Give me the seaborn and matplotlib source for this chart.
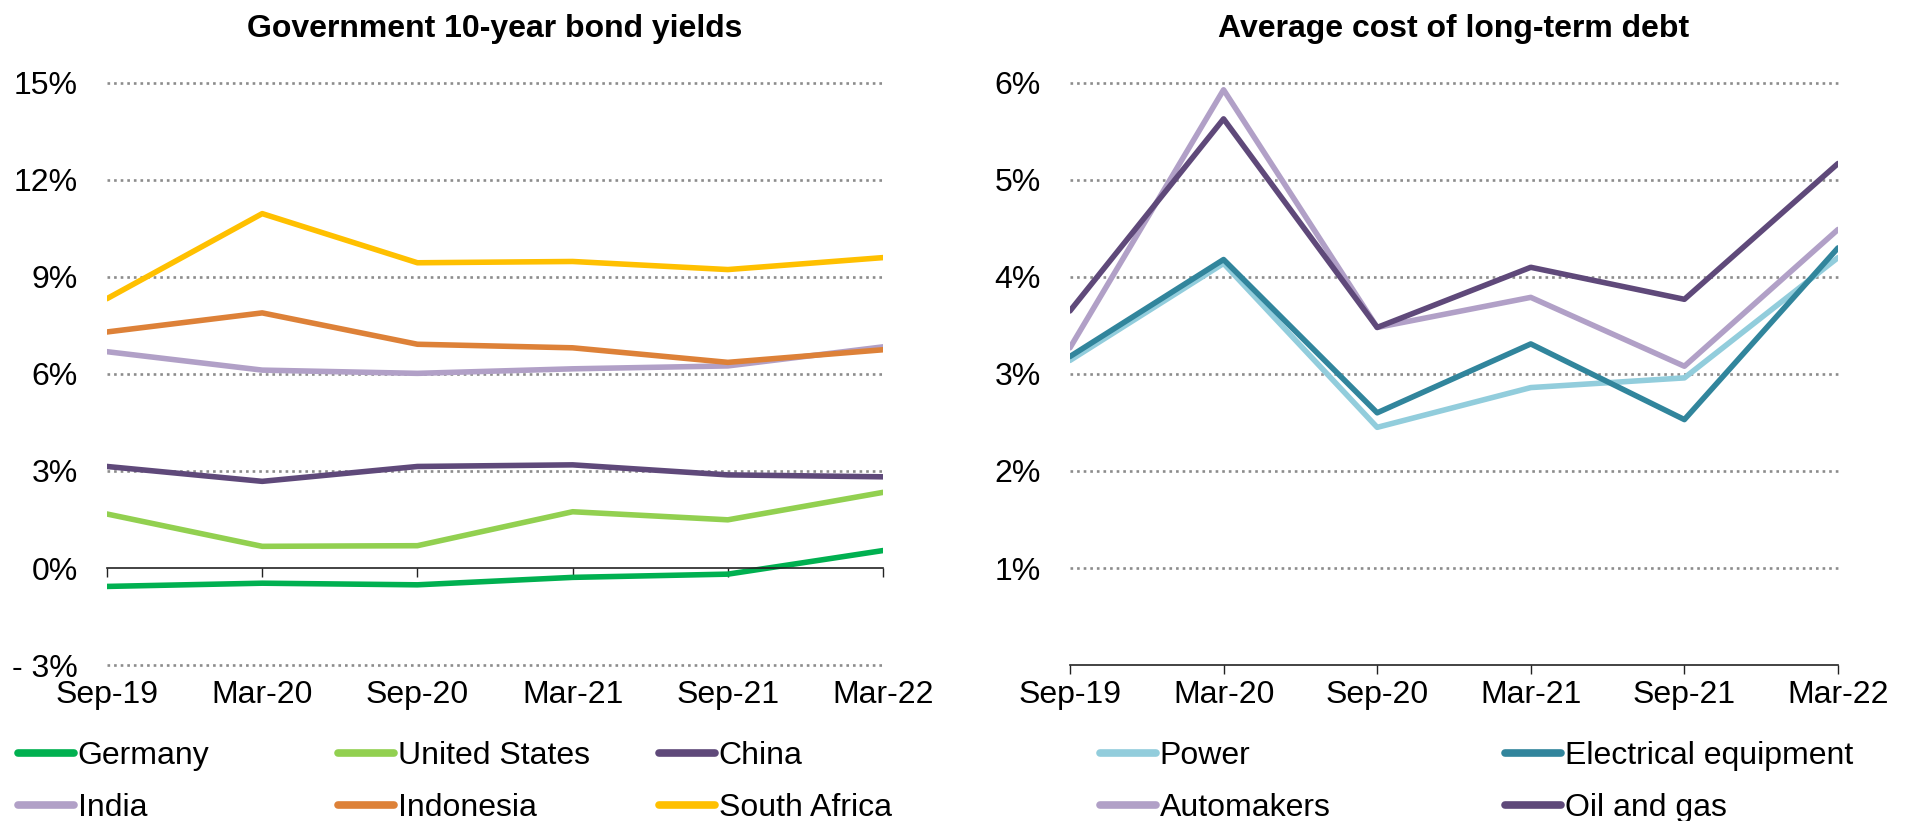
import numpy as np
import pandas as pd
import seaborn as sns
import matplotlib.pyplot as plt

sns.set_style("white")
plt.rcParams['font.family'] = ['Liberation Sans', 'DejaVu Sans']
plt.rcParams['text.color'] = 'black'
plt.rcParams['xtick.color'] = 'black'
plt.rcParams['ytick.color'] = 'black'

periods = ['Sep-19', 'Mar-20', 'Sep-20', 'Mar-21', 'Sep-21', 'Mar-22']

# left panel: government 10-year bond yields (%)
bond_names = ['Germany', 'United States', 'China', 'India', 'Indonesia', 'South Africa']
germany = [-0.57, -0.47, -0.52, -0.29, -0.19, 0.54]
united_states = [1.67, 0.67, 0.69, 1.74, 1.49, 2.34]
china = [3.14, 2.68, 3.14, 3.19, 2.88, 2.82]
india = [6.69, 6.12, 6.02, 6.16, 6.25, 6.84]
indonesia = [7.30, 7.89, 6.92, 6.81, 6.36, 6.75]
south_africa = [8.33, 10.96, 9.44, 9.48, 9.23, 9.60]
bond_colors = ['#00B050', '#92D050', '#5F497A', '#B1A0C7', '#DD8138', '#FFC000']
bond_ticks = [-3, 0, 3, 6, 9, 12, 15]
bond_tick_labels = ['- 3%', '0%', '3%', '6%', '9%', '12%', '15%']

# right panel: average cost of long-term debt (%)
debt_names = ['Power', 'Electrical equipment', 'Automakers', 'Oil and gas']
power = [3.14, 4.14, 2.45, 2.86, 2.96, 4.20]
electrical = [3.18, 4.18, 2.60, 3.31, 2.53, 4.30]
automakers = [3.27, 5.93, 3.48, 3.79, 3.08, 4.49]
oil_gas = [3.65, 5.63, 3.48, 4.10, 3.77, 5.17]
debt_colors = ['#92CDDC', '#31859C', '#B1A0C7', '#5F497A']
debt_ticks = [1, 2, 3, 4, 5, 6]
debt_tick_labels = ['1%', '2%', '3%', '4%', '5%', '6%']


def long_form(names, series):
    rows = []
    for name, vals in zip(names, series):
        for i, v in enumerate(vals):
            rows.append({'t': i, 'value': v, 'series': name})
    return pd.DataFrame(rows)


bonds = long_form(bond_names, [germany, united_states, china, india, indonesia, south_africa])
debt = long_form(debt_names, [power, electrical, automakers, oil_gas])

fig = plt.figure(figsize=(19.12, 8.21), dpi=100)
ax1 = fig.add_axes([0.05596, 0.19001, 0.4059, 0.7089])
ax2 = fig.add_axes([0.5596, 0.19001, 0.4017, 0.7089])

FS = 23


def style_axis(ax, df, names, colors, ylim, ticks, tick_labels, title):
    sns.lineplot(data=df, x='t', y='value', hue='series', hue_order=names,
                 palette=colors, linewidth=4.0, ax=ax, legend=True)
    handles, labels = ax.get_legend_handles_labels()
    ax.get_legend().remove()
    ax.set_xlim(0, len(periods) - 1)
    ax.set_ylim(*ylim)
    ax.set_yticks(ticks)
    ax.set_yticklabels(tick_labels)
    ax.set_xticks(range(len(periods)))
    ax.set_xlabel('')
    ax.set_ylabel('')
    ax.set_axisbelow(True)
    ax.yaxis.grid(True, linestyle=(0, (1, 1.5)), color='#8c8c8c', linewidth=1.9)
    ax.xaxis.grid(False)
    for side in ['left', 'right', 'top']:
        ax.spines[side].set_visible(False)
    ax.spines['bottom'].set_position(('data', 0))
    ax.spines['bottom'].set_color('#222222')
    ax.spines['bottom'].set_linewidth(1.2)
    ax.tick_params(axis='x', bottom=True, direction='out', length=6.5, width=1.0,
                   color='#222222', labelbottom=False)
    ax.tick_params(axis='y', left=False, length=0, labelsize=FS, pad=21)
    for gl, t in zip(ax.get_ygridlines(), ticks):
        gl.set_clip_on(False)
        if t == 0:
            gl.set_visible(False)
    sec = ax.secondary_xaxis(0)
    sec.set_xticks(range(len(periods)))
    sec.set_xticklabels(periods)
    sec.tick_params(length=0, labelsize=FS, pad=11)
    sec.spines['bottom'].set_visible(False)
    ax.set_title(title, fontsize=23, fontweight='bold', pad=33)
    return handles, labels


h1, l1 = style_axis(ax1, bonds, bond_names, bond_colors, (-3, 15),
                    bond_ticks, bond_tick_labels, 'Government 10-year bond yields')
h2, l2 = style_axis(ax2, debt, debt_names, debt_colors, (0, 6),
                    debt_ticks, debt_tick_labels, 'Average cost of long-term debt')


def column_legend(handles, labels, x_px):
    leg = fig.legend(handles, labels, loc='center left',
                     bbox_to_anchor=(x_px / 1912, 1 - 782 / 821),
                     frameon=False, fontsize=FS, handlelength=1.75,
                     handletextpad=0.12, borderpad=0, borderaxespad=0,
                     labelspacing=0.68)
    for line in leg.get_lines():
        line.set_linewidth(5.5)
        line.set_solid_capstyle('round')
    return leg


# legend laid out row-wise as in the reference: three columns left, two right
for col, x_px in enumerate([18, 338, 659]):
    column_legend([h1[col], h1[col + 3]], [l1[col], l1[col + 3]], x_px)
for col, x_px in enumerate([1100, 1505]):
    column_legend([h2[col], h2[col + 2]], [l2[col], l2[col + 2]], x_px)

fig.savefig('out.png', dpi=100)
